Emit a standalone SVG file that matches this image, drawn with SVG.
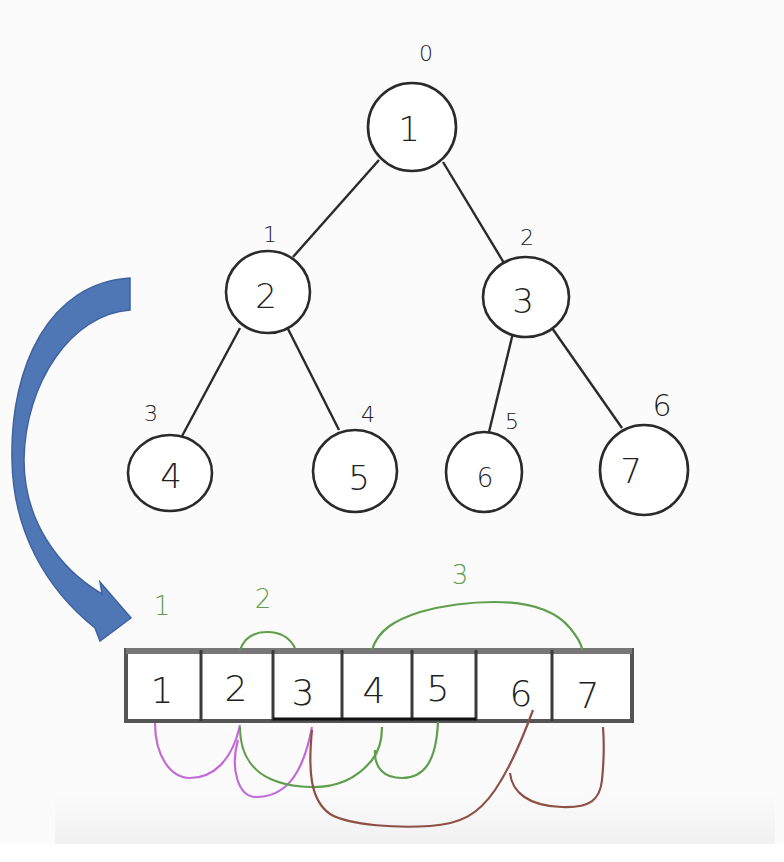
<svg xmlns="http://www.w3.org/2000/svg" width="784" height="862" viewBox="0 0 784 862">
<style>
.node ellipse{fill:#ffffff;stroke:#2a2a2a;stroke-width:2.6}
.num{font-family:"DejaVu Sans","Liberation Sans",sans-serif;font-weight:200;font-size:34px;fill:#222;text-anchor:middle}
.idx{font-family:"DejaVu Sans","Liberation Sans",sans-serif;font-weight:200;font-size:22px;fill:#222;text-anchor:middle}
.edge{stroke:#2a2a2a;stroke-width:2.4;fill:none}
.cell{fill:#ffffff;stroke:#3a3a3a;stroke-width:3}
.cnum{font-family:"DejaVu Sans","Liberation Sans",sans-serif;font-weight:200;font-size:36px;fill:#222;text-anchor:middle}
.gl{font-family:"DejaVu Sans","Liberation Sans",sans-serif;font-weight:200;font-size:26px;fill:#5e9e4c;text-anchor:middle}
.green{stroke:#5e9e4c;stroke-width:2.2;fill:none}
.purple{stroke:#c46ad6;stroke-width:2.2;fill:none}
.brown{stroke:#8e4f45;stroke-width:2.2;fill:none}
</style>
<defs>
<linearGradient id="fade" x1="0" y1="0" x2="0" y2="1">
<stop offset="0" stop-color="#fbfbfb"/>
<stop offset="1" stop-color="#f1f1f1"/>
</linearGradient>
</defs>
<rect x="0" y="0" width="784" height="862" fill="#fbfbfb"/>
<rect x="55" y="790" width="720" height="54" fill="url(#fade)"/>
<rect x="0" y="844" width="784" height="18" fill="#ffffff"/>

<g id="edges">
<line class="edge" x1="379" y1="160" x2="293" y2="257"/>
<line class="edge" x1="443" y1="162" x2="504" y2="263"/>
<line class="edge" x1="240" y1="328" x2="181" y2="438"/>
<line class="edge" x1="286" y1="325" x2="339" y2="430"/>
<line class="edge" x1="513" y1="333" x2="489" y2="432"/>
<line class="edge" x1="552" y1="328" x2="622" y2="428"/>
</g>

<g id="node1" class="node"><ellipse cx="412" cy="127" rx="44" ry="44"/><text class="num" x="409" y="141">1</text><text class="idx" x="426" y="61">0</text></g>
<g id="node2" class="node"><ellipse cx="268" cy="292" rx="42" ry="41"/><text class="num" x="266" y="308">2</text><text class="idx" x="270" y="242">1</text></g>
<g id="node3" class="node"><ellipse cx="526" cy="297" rx="43" ry="40"/><text class="num" x="523" y="313">3</text><text class="idx" x="527" y="245">2</text></g>
<g id="node4" class="node"><ellipse cx="170" cy="473" rx="42" ry="38"/><text class="num" x="171" y="488">4</text><text class="idx" x="151" y="421">3</text></g>
<g id="node5" class="node"><ellipse cx="355" cy="471" rx="42" ry="41"/><text class="num" x="359" y="490">5</text><text class="idx" x="368" y="422">4</text></g>
<g id="node6" class="node"><ellipse cx="484" cy="472" rx="38" ry="40"/><text class="num" x="485" y="487" style="font-size:26px">6</text><text class="idx" x="512" y="429">5</text></g>
<g id="node7" class="node"><ellipse cx="644" cy="470" rx="44" ry="45"/><text class="num" x="631" y="483">7</text><text class="idx" x="662" y="416" style="font-size:30px">6</text></g>

<g id="arrow">
<path d="M130,278 C50,283 10,365 12,460 C13,530 45,588 95,628 L100,641 L131,618 L100,582 L102,594 C58,568 24,520 24,460 C25,382 72,314 130,310 Z" fill="#4f76b5" stroke="#3f63a0" stroke-width="1.5"/>
</g>

<g id="array">
<rect x="126" y="650" width="506" height="71" fill="#ffffff" stroke="#555" stroke-width="4"/>
<line x1="126" y1="651" x2="632" y2="651" stroke="#777" stroke-width="6"/>
<line class="cell" x1="201" y1="650" x2="201" y2="721"/>
<line class="cell" x1="273" y1="650" x2="273" y2="721"/>
<line class="cell" x1="342" y1="650" x2="342" y2="721"/>
<line class="cell" x1="412" y1="650" x2="412" y2="721"/>
<line class="cell" x1="476" y1="650" x2="476" y2="721"/>
<line class="cell" x1="552" y1="650" x2="552" y2="721"/>
<line x1="273" y1="719" x2="476" y2="719" stroke="#111" stroke-width="3"/>
<text class="cnum" x="162" y="703">1</text>
<text class="cnum" x="236" y="701">2</text>
<text class="cnum" x="303" y="705">3</text>
<text class="cnum" x="374" y="703">4</text>
<text class="cnum" x="438" y="701">5</text>
<text class="cnum" x="521" y="706">6</text>
<text class="cnum" x="588" y="708">7</text>
</g>

<g id="groups">
<text class="gl" x="162" y="615">1</text>
<text class="gl" x="263" y="608">2</text>
<text class="gl" x="460" y="584">3</text>
<path class="green" d="M240,650 C245,636 256,632 267,632 C280,632 290,638 295,648"/>
<path class="green" d="M372,650 C378,630 395,620 420,612 C445,605 470,602 495,602 C530,602 555,610 570,628 C578,638 582,645 582,650"/>
<path class="purple" d="M155,723 C155,755 170,778 190,778 C212,778 232,762 240,725"/>
<path class="purple" d="M238,740 C230,768 238,797 256,797 C282,797 302,780 312,727"/>
<path class="green" d="M240,727 C240,765 262,785 310,787 C340,788 360,775 372,760 C380,750 382,740 382,727"/>
<path class="green" d="M375,750 C374,768 384,778 402,778 C422,778 436,765 438,722"/>
<path class="brown" d="M312,730 C308,770 310,800 330,814 C350,826 400,828 430,826 C460,824 478,815 495,790 C510,768 522,740 533,710"/>
<path class="brown" d="M510,773 C512,792 528,806 562,807 C590,808 600,800 602,780 C604,760 604,740 603,727"/>
</g>
</svg>
